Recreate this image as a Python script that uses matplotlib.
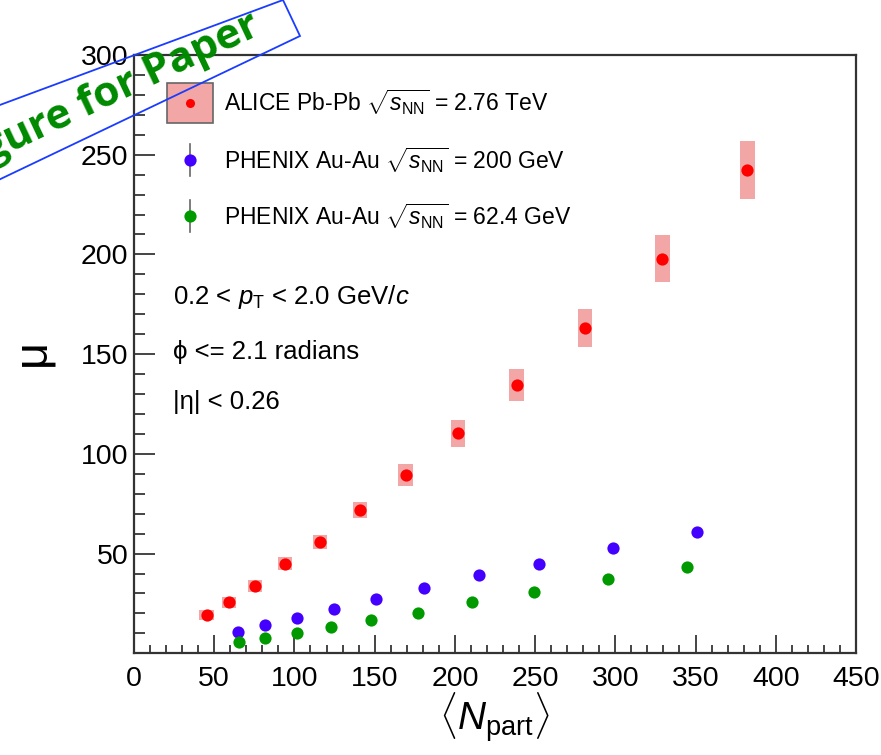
import numpy as np
import matplotlib.pyplot as plt
from matplotlib.patches import Rectangle, Polygon

plt.rcParams['font.family'] = ['Liberation Sans', 'DejaVu Sans']
plt.rcParams['mathtext.fontset'] = 'custom'
plt.rcParams['mathtext.rm'] = 'Liberation Sans'
plt.rcParams['mathtext.it'] = 'Liberation Sans:italic'
plt.rcParams['mathtext.bf'] = 'Liberation Sans:bold'

# ALICE Pb-Pb 2.76 TeV
npart_alice = [45.3, 59.2, 75.4, 94.1, 115.9, 140.9, 169.3, 201.8, 238.5, 281.1, 329.3, 382.3]
mu_alice = [19.2, 25.6, 33.9, 44.9, 55.7, 71.9, 89.4, 110.3, 134.6, 163.0, 197.9, 242.4]
sys_alice = [2.5, 2.8, 3.0, 3.3, 3.6, 4.2, 5.7, 6.7, 8.0, 9.6, 11.8, 14.5]
sysx_alice = 4.5

# PHENIX Au-Au 200 GeV
npart_200 = [65.0, 81.7, 101.8, 124.7, 150.6, 180.7, 214.8, 252.4, 298.4, 350.9]
mu_200 = [10.8, 14.2, 17.9, 22.4, 27.4, 32.6, 39.1, 44.9, 52.7, 61.0]

# PHENIX Au-Au 62.4 GeV
npart_62 = [65.6, 81.7, 101.8, 122.8, 147.7, 177.2, 210.7, 249.5, 295.6, 344.5]
mu_62 = [5.5, 7.5, 10.0, 13.3, 16.7, 20.4, 25.6, 30.7, 37.1, 43.4]

c_red = '#ff0000'
c_blue = '#4400ff'
c_green = '#009a00'
c_box = '#f2a6a6'

fig = plt.figure(figsize=(8.81, 7.55), dpi=100)
ax = fig.add_axes([0.1521, 0.1347, 0.8195, 0.7925])

# systematic boxes
for x, y, s in zip(npart_alice, mu_alice, sys_alice):
    ax.add_patch(Rectangle((x - sysx_alice, y - s), 2 * sysx_alice, 2 * s,
                           facecolor=c_box, edgecolor='none', zorder=2))

ms = 8.8
ax.plot(npart_alice, mu_alice, 'o', color=c_red, ms=ms, mec='none', zorder=3)
ax.plot(npart_200, mu_200, 'o', color=c_blue, ms=ms, mec='none', zorder=3)
ax.plot(npart_62, mu_62, 'o', color=c_green, ms=ms, mec='none', zorder=3)

ax.set_xlim(0, 450)
ax.set_ylim(0, 300)
ax.set_xticks(np.arange(0, 451, 50))
ax.set_yticks(np.arange(50, 301, 50))
ax.set_xticks(np.arange(0, 451, 10), minor=True)
ax.set_yticks(np.arange(0, 301, 10), minor=True)
ax.tick_params(axis='both', which='both', direction='in', color='#444444', width=1.4,
               labelsize=20.5, top=False, right=False)
ax.tick_params(axis='x', which='major', length=12.7, pad=9)
ax.tick_params(axis='x', which='minor', length=6)
ax.tick_params(axis='y', which='major', length=15, pad=4)
ax.tick_params(axis='y', which='minor', length=8)
for sp in ax.spines.values():
    sp.set_linewidth(1.6)
    sp.set_color('#333333')

# axis titles
fig.text(494 / 881, 1 - 718 / 755, r'$\langle N_{\mathrm{part}}\rangle$', fontsize=28,
         ha='center', va='center')
fig.text(32 / 881, 1 - 352 / 755, 'μ', fontsize=34, rotation=90,
         ha='center', va='center')

# legend
tr = ax.transAxes
ax.add_patch(Rectangle((0.0457, 0.8863), 0.0637, 0.0669, transform=tr,
                       facecolor=c_box, edgecolor='#666666', lw=1.2, zorder=4))
ax.plot([0.0776], [0.920], 'o', color=c_red, ms=6.5, mec='none', transform=tr, zorder=5)
for yy, cc in [(0.8243, c_blue), (0.7307, c_green)]:
    ax.plot([0.0776, 0.0776], [yy - 0.027, yy + 0.027], color='#666666', lw=1.2,
            transform=tr, zorder=4)
    ax.plot([0.0776], [yy], 'o', color=cc, ms=ms, mec='none', transform=tr, zorder=5)

leg_fs = 16.5
ax.text(0.1247, 0.9215, r'ALICE Pb-Pb $\sqrt{s_{\mathrm{NN}}}$ = 2.76 TeV', fontsize=leg_fs,
        transform=tr, va='center', ha='left')
ax.text(0.1247, 0.8243, r'PHENIX Au-Au $\sqrt{s_{\mathrm{NN}}}$ = 200 GeV', fontsize=leg_fs,
        transform=tr, va='center', ha='left')
ax.text(0.1247, 0.7307, r'PHENIX Au-Au $\sqrt{s_{\mathrm{NN}}}$ = 62.4 GeV', fontsize=leg_fs,
        transform=tr, va='center', ha='left')

cut_fs = 18.5
ax.text(0.0545, 0.5957, r'0.2 < $p_{\mathrm{T}}$ < 2.0 GeV/$c$', fontsize=cut_fs,
        transform=tr, va='center', ha='left')
ax.text(0.0545, 0.5036, 'ϕ <= 2.1 radians', fontsize=cut_fs,
        transform=tr, va='center', ha='left')
ax.text(0.0545, 0.4200, '|η| < 0.26', fontsize=cut_fs,
        transform=tr, va='center', ha='left')

# banner
W, H = 881.0, 755.0
pts = [(x / W, 1 - y / H) for x, y in [(-100, 227), (300, 36), (283, 0), (-100, 142)]]
fig.patches.append(Polygon(pts, closed=True, fill=False, edgecolor='#1a3cff', lw=1.3,
                           transform=fig.transFigure, figure=fig))
fig.text(258 / W, 1 - 24 / H, 'Figure for Paper', fontsize=30.5, fontweight='bold',
         family=['Open Sans', 'DejaVu Sans'], color='#008a00', rotation=25.3,
         rotation_mode='anchor', ha='right', va='center')

fig.savefig('out.png', dpi=100)
